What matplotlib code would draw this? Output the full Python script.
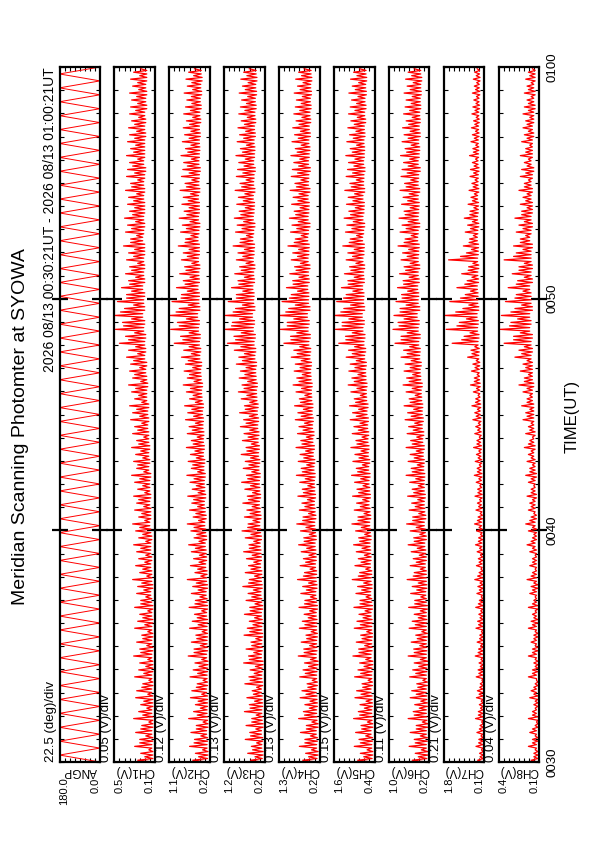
import numpy as np
import matplotlib
matplotlib.use("Agg")
import matplotlib.pyplot as plt
import matplotlib.transforms as mtransforms
from matplotlib.ticker import MultipleLocator, FixedLocator

plt.rcParams['font.family'] = ['Liberation Sans', 'DejaVu Sans']

# --- TEXT ---
title = 'Meridian Scanning Photomter at SYOWA'
period = '2026 08/13 00:30:21UT - 2026 08/13 01:00:21UT'
time_ticks = [0, 10, 20, 30]          # minutes after 00:30 UT
time_labels = ['0030', '0040', '0050', '0100']
panel_names = ['ANGP', 'CH1(V)', 'CH2(V)', 'CH3(V)', 'CH4(V)',
               'CH5(V)', 'CH6(V)', 'CH7(V)', 'CH8(V)']
scale_labels = ['22.5 (deg)/div', '0.05 (V)/div', '0.12 (V)/div', '0.13 (V)/div',
                '0.13 (V)/div', '0.15 (V)/div', '0.11 (V)/div', '0.21 (V)/div',
                '0.04 (V)/div']
v_min = [0.0, 0.1, 0.2, 0.2, 0.2, 0.4, 0.2, 0.1, 0.1]
v_max = [180.0, 0.5, 1.1, 1.2, 1.3, 1.6, 1.0, 1.8, 0.4]

# --- DATA ---
sweep_min = 0.3   # one scan sweep, minutes

# scan angle at the end of each sweep (deg)
angp = [0, 180, 0, 180, 0, 180, 0, 180, 0, 180, 0, 180, 0, 180, 0, 180, 0, 180, 0, 180,
        0, 180, 0, 180, 0, 180, 0, 180, 0, 180, 0, 180, 0, 180, 0, 180, 0, 180, 0, 180,
        0, 180, 0, 180, 0, 180, 0, 180, 0, 180, 0, 180, 0, 180, 0, 180, 0, 180, 0, 180,
        0, 180, 0, 180, 0, 180, 0, 180, 0, 180, 0, 180, 0, 180, 0, 180, 0, 180, 0, 180,
        0, 180, 0, 180, 0, 180, 0, 180, 0, 180, 0, 180, 0, 180, 0, 180, 0, 180, 0, 180, 0]

# per sweep: background level, main peak and secondary peak, volts
ch1_base = [0.12, 0.12, 0.13, 0.12, 0.13, 0.12, 0.12, 0.13, 0.12, 0.12,
            0.13, 0.12, 0.13, 0.12, 0.12, 0.13, 0.12, 0.13, 0.12, 0.13,
            0.12, 0.13, 0.12, 0.13, 0.14, 0.12, 0.13, 0.13, 0.14, 0.13,
            0.14, 0.14, 0.13, 0.14, 0.15, 0.14, 0.14, 0.15, 0.14, 0.15,
            0.15, 0.14, 0.16, 0.15, 0.16, 0.15, 0.16, 0.16, 0.17, 0.16,
            0.17, 0.16, 0.18, 0.18, 0.17, 0.18, 0.19, 0.18, 0.20, 0.19,
            0.20, 0.19, 0.21, 0.20, 0.22, 0.20, 0.21, 0.20, 0.22, 0.20,
            0.21, 0.20, 0.21, 0.20, 0.20, 0.22, 0.21, 0.20, 0.21, 0.20,
            0.20, 0.21, 0.20, 0.21, 0.20, 0.19, 0.21, 0.20, 0.20, 0.20,
            0.19, 0.20, 0.19, 0.20, 0.18, 0.19, 0.18, 0.19, 0.18, 0.18]
ch1_peak = [0.27, 0.24, 0.30, 0.25, 0.29, 0.23, 0.31, 0.26, 0.24, 0.29,
            0.28, 0.22, 0.30, 0.26, 0.25, 0.31, 0.25, 0.28, 0.23, 0.30,
            0.27, 0.25, 0.30, 0.24, 0.28, 0.27, 0.32, 0.25, 0.29, 0.26,
            0.28, 0.31, 0.26, 0.29, 0.32, 0.26, 0.30, 0.28, 0.31, 0.27,
            0.30, 0.33, 0.28, 0.31, 0.29, 0.33, 0.28, 0.32, 0.30, 0.34,
            0.32, 0.35, 0.30, 0.33, 0.36, 0.32, 0.35, 0.34, 0.38, 0.36,
            0.45, 0.39, 0.49, 0.42, 0.50, 0.40, 0.47, 0.38, 0.43, 0.36,
            0.39, 0.35, 0.38, 0.36, 0.41, 0.34, 0.39, 0.37, 0.40, 0.35,
            0.37, 0.36, 0.39, 0.34, 0.38, 0.37, 0.35, 0.38, 0.34, 0.37,
            0.35, 0.36, 0.33, 0.35, 0.34, 0.33, 0.35, 0.32, 0.34, 0.31]
ch1_sub = [0.20, 0.16, 0.25, 0.19, 0.24, 0.16, 0.22, 0.18, 0.21, 0.17,
           0.23, 0.16, 0.21, 0.19, 0.17, 0.24, 0.18, 0.22, 0.17, 0.20,
           0.22, 0.17, 0.24, 0.19, 0.21, 0.23, 0.18, 0.22, 0.20, 0.19,
           0.24, 0.19, 0.22, 0.25, 0.20, 0.23, 0.21, 0.26, 0.20, 0.22,
           0.25, 0.21, 0.27, 0.22, 0.24, 0.26, 0.21, 0.27, 0.23, 0.25,
           0.28, 0.23, 0.26, 0.29, 0.24, 0.30, 0.25, 0.31, 0.27, 0.29,
           0.36, 0.30, 0.41, 0.33, 0.44, 0.31, 0.38, 0.33, 0.35, 0.29,
           0.33, 0.27, 0.31, 0.30, 0.34, 0.28, 0.33, 0.29, 0.32, 0.30,
           0.31, 0.28, 0.33, 0.27, 0.30, 0.32, 0.27, 0.31, 0.29, 0.30,
           0.28, 0.30, 0.26, 0.29, 0.27, 0.28, 0.26, 0.27, 0.25, 0.24]

ch2_base = [0.25, 0.24, 0.26, 0.25, 0.27, 0.24, 0.25, 0.26, 0.25, 0.25,
            0.27, 0.25, 0.26, 0.25, 0.24, 0.27, 0.25, 0.26, 0.25, 0.26,
            0.25, 0.27, 0.25, 0.26, 0.28, 0.25, 0.27, 0.26, 0.29, 0.27,
            0.28, 0.30, 0.27, 0.29, 0.31, 0.28, 0.30, 0.32, 0.29, 0.31,
            0.32, 0.30, 0.33, 0.31, 0.34, 0.32, 0.34, 0.33, 0.35, 0.34,
            0.36, 0.34, 0.37, 0.38, 0.36, 0.39, 0.40, 0.38, 0.42, 0.40,
            0.43, 0.41, 0.45, 0.43, 0.47, 0.42, 0.44, 0.43, 0.46, 0.43,
            0.44, 0.42, 0.45, 0.43, 0.43, 0.46, 0.44, 0.42, 0.45, 0.43,
            0.43, 0.45, 0.42, 0.44, 0.43, 0.41, 0.44, 0.43, 0.42, 0.43,
            0.41, 0.43, 0.40, 0.42, 0.39, 0.41, 0.38, 0.40, 0.37, 0.39]
ch2_peak = [0.58, 0.52, 0.65, 0.54, 0.62, 0.50, 0.67, 0.56, 0.52, 0.63,
            0.60, 0.48, 0.64, 0.57, 0.53, 0.68, 0.55, 0.61, 0.51, 0.65,
            0.59, 0.54, 0.66, 0.52, 0.61, 0.58, 0.70, 0.53, 0.63, 0.56,
            0.61, 0.67, 0.55, 0.62, 0.70, 0.57, 0.65, 0.60, 0.69, 0.59,
            0.64, 0.71, 0.61, 0.68, 0.63, 0.72, 0.61, 0.70, 0.66, 0.74,
            0.69, 0.76, 0.65, 0.72, 0.79, 0.70, 0.77, 0.74, 0.83, 0.78,
            0.99, 0.85, 1.07, 0.92, 1.10, 0.88, 1.04, 0.83, 0.94, 0.79,
            0.87, 0.76, 0.83, 0.79, 0.90, 0.74, 0.85, 0.81, 0.88, 0.77,
            0.82, 0.79, 0.86, 0.75, 0.83, 0.80, 0.78, 0.84, 0.74, 0.81,
            0.76, 0.79, 0.72, 0.78, 0.74, 0.71, 0.77, 0.70, 0.73, 0.67]
ch2_sub = [0.45, 0.36, 0.55, 0.40, 0.50, 0.35, 0.48, 0.41, 0.46, 0.38,
           0.50, 0.35, 0.47, 0.44, 0.38, 0.55, 0.41, 0.49, 0.37, 0.46,
           0.48, 0.38, 0.53, 0.42, 0.46, 0.50, 0.40, 0.47, 0.44, 0.43,
           0.52, 0.44, 0.49, 0.55, 0.45, 0.51, 0.47, 0.56, 0.46, 0.50,
           0.55, 0.47, 0.58, 0.50, 0.53, 0.57, 0.48, 0.59, 0.52, 0.56,
           0.60, 0.52, 0.57, 0.63, 0.55, 0.65, 0.58, 0.68, 0.61, 0.66,
           0.80, 0.66, 0.88, 0.72, 0.95, 0.68, 0.84, 0.70, 0.75, 0.64,
           0.73, 0.60, 0.70, 0.66, 0.75, 0.62, 0.72, 0.64, 0.71, 0.66,
           0.68, 0.63, 0.72, 0.60, 0.66, 0.70, 0.61, 0.69, 0.62, 0.66,
           0.62, 0.65, 0.58, 0.63, 0.60, 0.61, 0.58, 0.60, 0.56, 0.54]

ch3_base = [0.26, 0.24, 0.27, 0.25, 0.28, 0.24, 0.26, 0.27, 0.25, 0.26,
            0.28, 0.25, 0.27, 0.26, 0.24, 0.28, 0.26, 0.27, 0.25, 0.27,
            0.26, 0.28, 0.25, 0.27, 0.29, 0.26, 0.28, 0.27, 0.30, 0.28,
            0.29, 0.31, 0.28, 0.30, 0.32, 0.29, 0.31, 0.33, 0.30, 0.32,
            0.33, 0.31, 0.34, 0.32, 0.35, 0.33, 0.36, 0.34, 0.37, 0.35,
            0.38, 0.36, 0.39, 0.40, 0.38, 0.41, 0.42, 0.40, 0.44, 0.42,
            0.46, 0.43, 0.48, 0.45, 0.50, 0.44, 0.47, 0.46, 0.49, 0.45,
            0.47, 0.44, 0.48, 0.46, 0.45, 0.49, 0.47, 0.44, 0.48, 0.46,
            0.45, 0.48, 0.44, 0.47, 0.46, 0.43, 0.47, 0.45, 0.44, 0.46,
            0.43, 0.45, 0.42, 0.44, 0.41, 0.43, 0.40, 0.42, 0.39, 0.41]
ch3_peak = [0.55, 0.62, 0.53, 0.68, 0.57, 0.66, 0.52, 0.70, 0.58, 0.64,
            0.51, 0.69, 0.59, 0.56, 0.72, 0.60, 0.66, 0.54, 0.71, 0.63,
            0.58, 0.70, 0.57, 0.66, 0.61, 0.74, 0.58, 0.68, 0.60, 0.65,
            0.72, 0.59, 0.68, 0.76, 0.61, 0.70, 0.64, 0.74, 0.63, 0.69,
            0.77, 0.65, 0.73, 0.68, 0.78, 0.66, 0.75, 0.71, 0.80, 0.72,
            0.82, 0.70, 0.78, 0.85, 0.76, 0.83, 0.80, 0.90, 0.84, 0.95,
            1.12, 0.96, 1.20, 1.00, 1.18, 0.92, 1.10, 0.90, 1.02, 0.86,
            0.94, 0.82, 0.90, 0.86, 0.98, 0.80, 0.92, 0.88, 0.95, 0.83,
            0.89, 0.85, 0.93, 0.81, 0.90, 0.87, 0.84, 0.91, 0.80, 0.88,
            0.82, 0.86, 0.78, 0.84, 0.80, 0.77, 0.83, 0.75, 0.79, 0.72]
ch3_sub = [0.44, 0.50, 0.40, 0.55, 0.42, 0.52, 0.41, 0.56, 0.45, 0.48,
           0.40, 0.56, 0.46, 0.43, 0.58, 0.47, 0.52, 0.42, 0.57, 0.49,
           0.45, 0.56, 0.44, 0.52, 0.48, 0.60, 0.45, 0.54, 0.47, 0.51,
           0.58, 0.47, 0.54, 0.62, 0.49, 0.56, 0.51, 0.60, 0.50, 0.55,
           0.62, 0.52, 0.59, 0.55, 0.64, 0.53, 0.61, 0.57, 0.66, 0.58,
           0.68, 0.57, 0.64, 0.71, 0.62, 0.69, 0.66, 0.75, 0.70, 0.79,
           0.92, 0.78, 1.02, 0.82, 0.98, 0.75, 0.90, 0.74, 0.84, 0.70,
           0.78, 0.66, 0.74, 0.70, 0.81, 0.65, 0.76, 0.72, 0.79, 0.68,
           0.73, 0.69, 0.77, 0.66, 0.74, 0.71, 0.68, 0.75, 0.65, 0.72,
           0.67, 0.70, 0.63, 0.69, 0.65, 0.62, 0.68, 0.61, 0.64, 0.58]

ch4_base = [0.27, 0.24, 0.28, 0.26, 0.29, 0.24, 0.27, 0.28, 0.26, 0.27,
            0.29, 0.26, 0.28, 0.27, 0.24, 0.29, 0.27, 0.28, 0.26, 0.28,
            0.27, 0.29, 0.26, 0.28, 0.30, 0.27, 0.29, 0.28, 0.31, 0.29,
            0.30, 0.32, 0.29, 0.31, 0.33, 0.30, 0.32, 0.34, 0.31, 0.33,
            0.34, 0.32, 0.35, 0.33, 0.37, 0.34, 0.38, 0.35, 0.39, 0.37,
            0.40, 0.38, 0.41, 0.42, 0.40, 0.43, 0.44, 0.42, 0.46, 0.44,
            0.49, 0.45, 0.51, 0.48, 0.53, 0.46, 0.50, 0.49, 0.52, 0.48,
            0.50, 0.46, 0.51, 0.49, 0.48, 0.52, 0.50, 0.46, 0.51, 0.49,
            0.48, 0.51, 0.46, 0.50, 0.49, 0.45, 0.50, 0.48, 0.46, 0.49,
            0.45, 0.48, 0.44, 0.46, 0.43, 0.45, 0.42, 0.44, 0.41, 0.43]
ch4_peak = [0.66, 0.58, 0.75, 0.60, 0.72, 0.56, 0.77, 0.64, 0.60, 0.73,
            0.68, 0.54, 0.74, 0.65, 0.61, 0.78, 0.63, 0.70, 0.57, 0.75,
            0.67, 0.62, 0.76, 0.60, 0.71, 0.66, 0.80, 0.61, 0.73, 0.64,
            0.70, 0.77, 0.63, 0.72, 0.82, 0.65, 0.75, 0.68, 0.79, 0.67,
            0.74, 0.83, 0.70, 0.78, 0.73, 0.84, 0.71, 0.80, 0.76, 0.86,
            0.79, 0.88, 0.75, 0.84, 0.92, 0.82, 0.89, 0.86, 0.97, 0.90,
            1.17, 0.99, 1.27, 1.08, 1.30, 1.04, 1.22, 0.97, 1.10, 0.93,
            1.01, 0.88, 0.97, 0.93, 1.06, 0.86, 0.99, 0.95, 1.02, 0.89,
            0.96, 0.92, 1.00, 0.87, 0.97, 0.94, 0.90, 0.98, 0.86, 0.95,
            0.88, 0.93, 0.84, 0.90, 0.86, 0.83, 0.89, 0.80, 0.85, 0.77]
ch4_sub = [0.50, 0.42, 0.60, 0.45, 0.56, 0.41, 0.61, 0.48, 0.46, 0.57,
           0.52, 0.40, 0.59, 0.50, 0.45, 0.62, 0.47, 0.55, 0.43, 0.60,
           0.51, 0.47, 0.61, 0.45, 0.56, 0.50, 0.64, 0.46, 0.58, 0.49,
           0.55, 0.62, 0.48, 0.57, 0.66, 0.50, 0.60, 0.53, 0.64, 0.52,
           0.59, 0.67, 0.55, 0.63, 0.58, 0.68, 0.56, 0.65, 0.61, 0.70,
           0.64, 0.72, 0.60, 0.69, 0.76, 0.67, 0.73, 0.70, 0.81, 0.74,
           0.98, 0.82, 1.08, 0.90, 1.12, 0.86, 1.02, 0.80, 0.92, 0.76,
           0.84, 0.72, 0.80, 0.77, 0.89, 0.70, 0.82, 0.78, 0.85, 0.73,
           0.79, 0.76, 0.83, 0.71, 0.80, 0.77, 0.74, 0.81, 0.70, 0.78,
           0.72, 0.76, 0.68, 0.74, 0.70, 0.67, 0.73, 0.65, 0.69, 0.62]

ch5_base = [0.47, 0.45, 0.48, 0.46, 0.50, 0.45, 0.47, 0.48, 0.46, 0.47,
            0.50, 0.46, 0.48, 0.47, 0.45, 0.50, 0.47, 0.48, 0.46, 0.48,
            0.47, 0.50, 0.46, 0.48, 0.51, 0.47, 0.50, 0.48, 0.52, 0.50,
            0.51, 0.53, 0.50, 0.52, 0.54, 0.51, 0.53, 0.56, 0.52, 0.54,
            0.56, 0.53, 0.57, 0.54, 0.58, 0.56, 0.59, 0.57, 0.60, 0.58,
            0.62, 0.59, 0.63, 0.64, 0.62, 0.65, 0.66, 0.64, 0.69, 0.66,
            0.71, 0.68, 0.74, 0.70, 0.76, 0.69, 0.72, 0.71, 0.75, 0.70,
            0.72, 0.69, 0.74, 0.71, 0.70, 0.75, 0.72, 0.69, 0.74, 0.71,
            0.70, 0.74, 0.69, 0.72, 0.71, 0.68, 0.72, 0.70, 0.69, 0.71,
            0.68, 0.70, 0.66, 0.69, 0.65, 0.68, 0.64, 0.66, 0.63, 0.65]
ch5_peak = [0.90, 0.82, 1.00, 0.86, 0.96, 0.80, 1.02, 0.88, 0.83, 0.98,
            0.93, 0.77, 0.99, 0.89, 0.84, 1.04, 0.87, 0.94, 0.81, 1.00,
            0.92, 0.86, 1.01, 0.83, 0.95, 0.90, 1.06, 0.84, 0.98, 0.88,
            0.94, 1.02, 0.87, 0.96, 1.07, 0.89, 1.00, 0.93, 1.05, 0.92,
            0.99, 1.08, 0.94, 1.04, 0.98, 1.10, 0.95, 1.06, 1.01, 1.12,
            1.05, 1.14, 1.00, 1.10, 1.18, 1.07, 1.16, 1.12, 1.24, 1.17,
            1.46, 1.26, 1.56, 1.36, 1.60, 1.31, 1.52, 1.24, 1.38, 1.19,
            1.29, 1.14, 1.24, 1.19, 1.34, 1.12, 1.26, 1.22, 1.30, 1.16,
            1.23, 1.18, 1.28, 1.13, 1.24, 1.20, 1.17, 1.25, 1.12, 1.22,
            1.14, 1.19, 1.10, 1.17, 1.12, 1.08, 1.16, 1.06, 1.11, 1.02]
ch5_sub = [0.72, 0.62, 0.82, 0.66, 0.78, 0.61, 0.84, 0.70, 0.65, 0.80,
           0.75, 0.59, 0.81, 0.71, 0.66, 0.86, 0.69, 0.77, 0.63, 0.82,
           0.74, 0.68, 0.83, 0.65, 0.78, 0.72, 0.88, 0.66, 0.80, 0.70,
           0.77, 0.84, 0.69, 0.79, 0.89, 0.71, 0.82, 0.75, 0.87, 0.74,
           0.81, 0.90, 0.76, 0.86, 0.80, 0.92, 0.77, 0.88, 0.83, 0.94,
           0.87, 0.96, 0.82, 0.92, 1.00, 0.89, 0.98, 0.94, 1.06, 0.99,
           1.25, 1.06, 1.36, 1.16, 1.40, 1.11, 1.32, 1.04, 1.18, 1.00,
           1.10, 0.95, 1.05, 1.00, 1.15, 0.93, 1.07, 1.03, 1.11, 0.97,
           1.04, 0.99, 1.09, 0.94, 1.05, 1.01, 0.98, 1.06, 0.93, 1.03,
           0.95, 1.00, 0.91, 0.98, 0.93, 0.89, 0.97, 0.87, 0.92, 0.84]

ch6_base = [0.25, 0.23, 0.26, 0.24, 0.26, 0.23, 0.25, 0.26, 0.24, 0.25,
            0.26, 0.24, 0.26, 0.25, 0.23, 0.26, 0.25, 0.26, 0.24, 0.26,
            0.25, 0.26, 0.24, 0.26, 0.27, 0.25, 0.26, 0.26, 0.28, 0.26,
            0.27, 0.29, 0.26, 0.28, 0.30, 0.27, 0.29, 0.30, 0.28, 0.30,
            0.30, 0.29, 0.31, 0.30, 0.32, 0.30, 0.33, 0.31, 0.34, 0.32,
            0.34, 0.33, 0.35, 0.36, 0.34, 0.37, 0.38, 0.36, 0.39, 0.38,
            0.41, 0.38, 0.42, 0.40, 0.44, 0.39, 0.42, 0.41, 0.43, 0.40,
            0.42, 0.39, 0.42, 0.41, 0.40, 0.43, 0.42, 0.39, 0.42, 0.41,
            0.40, 0.42, 0.39, 0.42, 0.41, 0.38, 0.42, 0.40, 0.39, 0.41,
            0.38, 0.40, 0.38, 0.39, 0.37, 0.38, 0.36, 0.37, 0.35, 0.37]
ch6_peak = [0.54, 0.48, 0.60, 0.50, 0.58, 0.46, 0.62, 0.52, 0.49, 0.58,
            0.55, 0.45, 0.59, 0.53, 0.50, 0.62, 0.51, 0.56, 0.47, 0.60,
            0.54, 0.50, 0.61, 0.49, 0.57, 0.54, 0.64, 0.50, 0.58, 0.52,
            0.56, 0.62, 0.51, 0.58, 0.65, 0.53, 0.60, 0.55, 0.63, 0.54,
            0.59, 0.66, 0.56, 0.62, 0.58, 0.66, 0.57, 0.64, 0.61, 0.68,
            0.63, 0.70, 0.60, 0.66, 0.72, 0.65, 0.70, 0.68, 0.76, 0.71,
            0.88, 0.76, 0.92, 0.82, 0.90, 0.78, 0.86, 0.75, 0.83, 0.72,
            0.79, 0.70, 0.76, 0.73, 0.82, 0.68, 0.78, 0.74, 0.80, 0.70,
            0.75, 0.72, 0.78, 0.69, 0.76, 0.74, 0.71, 0.77, 0.68, 0.74,
            0.70, 0.73, 0.66, 0.71, 0.68, 0.66, 0.70, 0.64, 0.67, 0.62]
ch6_sub = [0.42, 0.36, 0.48, 0.38, 0.46, 0.34, 0.50, 0.40, 0.37, 0.46,
           0.43, 0.33, 0.47, 0.41, 0.38, 0.50, 0.39, 0.44, 0.35, 0.48,
           0.42, 0.38, 0.49, 0.37, 0.45, 0.42, 0.52, 0.38, 0.46, 0.40,
           0.44, 0.50, 0.39, 0.46, 0.53, 0.41, 0.48, 0.43, 0.51, 0.42,
           0.47, 0.54, 0.44, 0.50, 0.46, 0.54, 0.45, 0.52, 0.49, 0.56,
           0.51, 0.58, 0.48, 0.54, 0.60, 0.53, 0.58, 0.56, 0.64, 0.59,
           0.76, 0.64, 0.80, 0.70, 0.78, 0.66, 0.74, 0.63, 0.71, 0.60,
           0.67, 0.58, 0.64, 0.61, 0.70, 0.56, 0.66, 0.62, 0.68, 0.58,
           0.63, 0.60, 0.66, 0.57, 0.64, 0.62, 0.59, 0.65, 0.56, 0.62,
           0.58, 0.61, 0.54, 0.59, 0.56, 0.54, 0.58, 0.52, 0.55, 0.50]

ch7_base = [0.15, 0.14, 0.16, 0.15, 0.17, 0.14, 0.15, 0.16, 0.15, 0.15,
            0.17, 0.15, 0.16, 0.15, 0.14, 0.17, 0.15, 0.16, 0.15, 0.16,
            0.15, 0.17, 0.15, 0.16, 0.18, 0.15, 0.17, 0.16, 0.19, 0.17,
            0.18, 0.20, 0.17, 0.19, 0.21, 0.18, 0.20, 0.22, 0.19, 0.21,
            0.22, 0.20, 0.23, 0.21, 0.24, 0.22, 0.25, 0.23, 0.26, 0.24,
            0.27, 0.25, 0.28, 0.29, 0.27, 0.30, 0.31, 0.29, 0.33, 0.31,
            0.36, 0.32, 0.38, 0.35, 0.40, 0.33, 0.37, 0.36, 0.39, 0.34,
            0.37, 0.33, 0.38, 0.35, 0.34, 0.39, 0.37, 0.33, 0.38, 0.35,
            0.34, 0.38, 0.33, 0.36, 0.35, 0.32, 0.36, 0.34, 0.33, 0.35,
            0.32, 0.34, 0.31, 0.33, 0.30, 0.32, 0.29, 0.31, 0.28, 0.30]
ch7_peak = [0.38, 0.30, 0.45, 0.33, 0.41, 0.28, 0.47, 0.35, 0.31, 0.43,
            0.39, 0.27, 0.44, 0.36, 0.32, 0.48, 0.34, 0.40, 0.29, 0.45,
            0.38, 0.33, 0.46, 0.31, 0.41, 0.37, 0.50, 0.32, 0.43, 0.35,
            0.40, 0.47, 0.34, 0.42, 0.51, 0.36, 0.45, 0.39, 0.49, 0.38,
            0.44, 0.52, 0.40, 0.48, 0.43, 0.55, 0.41, 0.50, 0.46, 0.58,
            0.50, 0.62, 0.46, 0.56, 0.68, 0.52, 0.64, 0.58, 0.80, 0.66,
            1.45, 0.95, 1.70, 1.15, 1.78, 1.00, 1.55, 0.90, 1.25, 0.82,
            1.05, 0.76, 1.60, 0.85, 0.98, 0.72, 0.90, 0.80, 0.94, 0.70,
            0.78, 0.66, 0.74, 0.62, 0.70, 0.68, 0.60, 0.72, 0.58, 0.66,
            0.60, 0.64, 0.55, 0.62, 0.58, 0.54, 0.60, 0.52, 0.56, 0.50]
ch7_sub = [0.28, 0.22, 0.34, 0.24, 0.31, 0.21, 0.35, 0.26, 0.23, 0.32,
           0.29, 0.20, 0.33, 0.27, 0.24, 0.36, 0.25, 0.30, 0.22, 0.34,
           0.28, 0.25, 0.35, 0.23, 0.31, 0.28, 0.38, 0.24, 0.32, 0.26,
           0.30, 0.35, 0.26, 0.32, 0.39, 0.27, 0.34, 0.30, 0.37, 0.29,
           0.33, 0.39, 0.31, 0.36, 0.33, 0.41, 0.31, 0.38, 0.35, 0.44,
           0.39, 0.47, 0.36, 0.43, 0.52, 0.40, 0.49, 0.44, 0.62, 0.50,
           1.05, 0.70, 1.25, 0.85, 1.30, 0.75, 1.10, 0.68, 0.92, 0.62,
           0.78, 0.58, 1.10, 0.64, 0.74, 0.56, 0.68, 0.60, 0.71, 0.54,
           0.60, 0.52, 0.57, 0.49, 0.55, 0.53, 0.47, 0.56, 0.46, 0.52,
           0.47, 0.50, 0.44, 0.49, 0.45, 0.43, 0.47, 0.42, 0.44, 0.40]

ch8_base = [0.11, 0.11, 0.12, 0.11, 0.12, 0.11, 0.11, 0.12, 0.11, 0.11,
            0.12, 0.11, 0.12, 0.11, 0.11, 0.12, 0.11, 0.12, 0.11, 0.12,
            0.11, 0.12, 0.11, 0.12, 0.12, 0.11, 0.12, 0.12, 0.12, 0.12,
            0.12, 0.13, 0.12, 0.12, 0.13, 0.12, 0.13, 0.13, 0.12, 0.13,
            0.13, 0.12, 0.13, 0.13, 0.14, 0.13, 0.14, 0.13, 0.14, 0.14,
            0.14, 0.14, 0.15, 0.15, 0.14, 0.15, 0.15, 0.15, 0.16, 0.15,
            0.16, 0.15, 0.17, 0.16, 0.17, 0.15, 0.16, 0.16, 0.17, 0.15,
            0.16, 0.15, 0.16, 0.16, 0.15, 0.17, 0.16, 0.15, 0.16, 0.15,
            0.15, 0.16, 0.15, 0.16, 0.15, 0.14, 0.16, 0.15, 0.15, 0.15,
            0.14, 0.15, 0.14, 0.14, 0.13, 0.14, 0.13, 0.14, 0.13, 0.13]
ch8_peak = [0.16, 0.14, 0.18, 0.15, 0.17, 0.13, 0.18, 0.15, 0.14, 0.17,
            0.16, 0.13, 0.18, 0.15, 0.14, 0.18, 0.15, 0.16, 0.14, 0.18,
            0.16, 0.15, 0.18, 0.14, 0.17, 0.16, 0.19, 0.15, 0.17, 0.15,
            0.17, 0.19, 0.15, 0.18, 0.20, 0.16, 0.18, 0.17, 0.19, 0.16,
            0.18, 0.20, 0.17, 0.19, 0.18, 0.21, 0.17, 0.20, 0.18, 0.22,
            0.20, 0.23, 0.19, 0.22, 0.25, 0.21, 0.24, 0.22, 0.28, 0.25,
            0.36, 0.29, 0.39, 0.31, 0.38, 0.28, 0.35, 0.27, 0.33, 0.26,
            0.30, 0.25, 0.36, 0.27, 0.29, 0.24, 0.27, 0.25, 0.28, 0.23,
            0.24, 0.22, 0.25, 0.21, 0.24, 0.23, 0.21, 0.24, 0.20, 0.23,
            0.21, 0.22, 0.20, 0.22, 0.21, 0.19, 0.21, 0.19, 0.20, 0.18]
ch8_sub = [0.14, 0.13, 0.15, 0.13, 0.15, 0.12, 0.15, 0.13, 0.13, 0.14,
           0.14, 0.12, 0.15, 0.13, 0.13, 0.15, 0.13, 0.14, 0.13, 0.15,
           0.14, 0.13, 0.15, 0.13, 0.15, 0.14, 0.16, 0.13, 0.15, 0.13,
           0.15, 0.16, 0.14, 0.15, 0.17, 0.14, 0.16, 0.15, 0.16, 0.14,
           0.16, 0.17, 0.15, 0.16, 0.16, 0.18, 0.15, 0.17, 0.16, 0.19,
           0.17, 0.19, 0.17, 0.19, 0.21, 0.18, 0.20, 0.19, 0.23, 0.21,
           0.29, 0.24, 0.32, 0.26, 0.31, 0.23, 0.28, 0.22, 0.27, 0.21,
           0.25, 0.21, 0.29, 0.22, 0.24, 0.20, 0.22, 0.21, 0.23, 0.19,
           0.20, 0.19, 0.21, 0.18, 0.20, 0.19, 0.18, 0.20, 0.17, 0.19,
           0.18, 0.19, 0.17, 0.18, 0.18, 0.16, 0.18, 0.16, 0.17, 0.15]

channels = [(ch1_base, ch1_peak, ch1_sub), (ch2_base, ch2_peak, ch2_sub),
            (ch3_base, ch3_peak, ch3_sub), (ch4_base, ch4_peak, ch4_sub),
            (ch5_base, ch5_peak, ch5_sub), (ch6_base, ch6_peak, ch6_sub),
            (ch7_base, ch7_peak, ch7_sub), (ch8_base, ch8_peak, ch8_sub)]

# --- LAYOUT (pixels of the 595x842 page) ---
W, H = 595, 842
left0, step, pw = 59.5, 54.9, 40.5
top_px, bot_px = 67, 762

fig = plt.figure(figsize=(W / 100, H / 100), dpi=100)

axes = []
for i in range(9):
    ax = fig.add_axes([(left0 + i * step) / W, 1 - bot_px / H, pw / W, (bot_px - top_px) / H])
    axes.append(ax)

for i, ax in enumerate(axes):
    if i == 0:
        t = np.arange(len(angp)) * sweep_min
        vals = np.array(angp, dtype=float)
        lw = 0.7
    else:
        base, peak, sub = channels[i - 1]
        # each sweep: background -> main peak -> background -> secondary peak
        vals = np.column_stack([base, peak, base, sub]).ravel()
        t = np.arange(len(vals)) * sweep_min / 4
        lw = 0.9
    ax.plot(vals, t, color='red', lw=lw)

    ax.set_xlim(v_max[i], v_min[i])
    ax.set_ylim(0, 30)

    # value divisions: 8 per panel
    ax.xaxis.set_major_locator(FixedLocator(np.linspace(v_min[i], v_max[i], 9)[1:-1]))
    ax.tick_params(axis='x', which='major', direction='in', length=3, width=0.8,
                   top=True, bottom=True, labelbottom=False, labeltop=False)
    # time ticks
    ax.yaxis.set_major_locator(FixedLocator([10, 20]))
    ax.yaxis.set_minor_locator(MultipleLocator(1))
    ax.tick_params(axis='y', which='major', direction='inout', length=11, width=1.6,
                   left=True, right=True, labelleft=False, labelright=False)
    ax.tick_params(axis='y', which='minor', direction='in', length=3, width=0.8,
                   left=True, right=True)
    for s in ax.spines.values():
        s.set_linewidth(1.6)

    ax.text(0.5, -0.004, panel_names[i], rotation=180, ha='center', va='top',
            fontsize=8.5, transform=ax.transAxes)
    ax.text(0.12, -0.022, f'{v_max[i]:.1f}', rotation=90, ha='center', va='top',
            fontsize=8, transform=ax.transAxes)
    ax.text(0.88, -0.022, f'{v_min[i]:.1f}', rotation=90, ha='center', va='top',
            fontsize=8, transform=ax.transAxes)
    ax.text(-0.05, 0.0, scale_labels[i], rotation=90, ha='right', va='bottom',
            fontsize=9.5, transform=ax.transAxes)

axes[0].text(-0.05, 1.0, period, rotation=90, ha='right', va='top',
             fontsize=10, transform=axes[0].transAxes)

# time labels on the right of the last panel
trans = mtransforms.blended_transform_factory(axes[-1].transAxes, axes[-1].transData)
for tt, lab in zip(time_ticks, time_labels):
    axes[-1].text(1.17, tt, lab, rotation=90, ha='left', va='center',
                  fontsize=9.5, transform=trans)
fig.text(0.962, 0.505, 'TIME(UT)', rotation=90, ha='center', va='center', fontsize=12)
fig.text(0.034, 0.493, title, rotation=90, ha='center', va='center', fontsize=14)

fig.savefig('out.png', dpi=100)
